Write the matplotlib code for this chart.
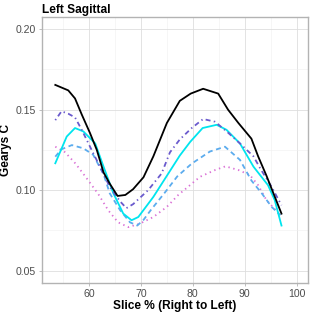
import matplotlib

matplotlib.use("Agg")
import matplotlib.pyplot as plt

plt.rcParams["font.family"] = ["Liberation Sans", "DejaVu Sans"]
plt.rcParams["lines.scale_dashes"] = False

# values
black_x = [53.5, 56.0, 57.3, 58.6, 60.2, 61.5, 62.8, 64.0, 65.5, 67.0, 68.5, 70.5,
           72.4, 75.0, 77.5, 79.6, 82.0, 84.9, 86.8, 88.8, 91.3, 92.6, 94.2, 97.1]
black_y = [0.1654, 0.162, 0.157, 0.147, 0.1354, 0.125, 0.111, 0.104, 0.0964, 0.0970,
           0.1006, 0.108, 0.121, 0.1417, 0.1555, 0.160, 0.163, 0.160, 0.150, 0.1417,
           0.132, 0.121, 0.109, 0.0854]

purple_x = [53.5, 54.7, 56.0, 57.3, 58.6, 60.5, 62.1, 64.0, 66.0, 67.2, 68.5, 71.4,
            74.0, 75.6, 77.5, 79.8, 82.0, 84.3, 86.7, 89.1, 91.7, 93.0, 95.2, 97.1]
purple_y = [0.1435, 0.149, 0.1475, 0.1452, 0.1375, 0.125, 0.1146, 0.102, 0.093, 0.0888,
            0.0913, 0.100, 0.1104, 0.1235, 0.1315, 0.1386, 0.1442, 0.1425, 0.1360,
            0.129, 0.121, 0.1135, 0.102, 0.0906]

cyan_x = [53.5, 55.7, 57.3, 58.9, 61.2, 62.8, 64.7, 66.6, 68.2, 69.5, 72.4, 75.3,
          77.5, 79.5, 81.9, 84.6, 86.5, 89.1, 91.7, 94.5, 95.8, 97.1]
cyan_y = [0.1167, 0.1333, 0.1386, 0.1365, 0.129, 0.1146, 0.098, 0.0854, 0.0813, 0.0833,
          0.0958, 0.1104, 0.1215, 0.130, 0.1386, 0.1406, 0.1375, 0.129, 0.1146, 0.1031,
          0.0938, 0.078]

blue_x = [53.5, 54.7, 56.7, 58.9, 60.8, 61.5, 62.8, 64.0, 66.0, 67.9, 69.3, 70.5,
          72.0, 74.5, 77.0, 79.8, 83.3, 86.2, 89.1, 91.3, 93.3, 95.2, 96.9]
blue_y = [0.1208, 0.1254, 0.128, 0.126, 0.122, 0.1177, 0.110, 0.098, 0.0875, 0.0800,
          0.078, 0.0815, 0.088, 0.098, 0.1085, 0.1165, 0.124, 0.127, 0.1188, 0.106,
          0.098, 0.0896, 0.0844]

pink_x = [53.5, 55.4, 57.4, 59.4, 61.8, 63.7, 65.6, 67.6, 69.8, 72.4, 75.0, 77.2,
          78.5, 81.4, 84.3, 86.3, 88.8, 91.0, 92.6, 94.2, 96.9]
pink_y = [0.127, 0.1235, 0.1165, 0.108, 0.0975, 0.0875, 0.080, 0.077, 0.0792, 0.0833,
          0.0896, 0.097, 0.1005, 0.1083, 0.1125, 0.1148, 0.1125, 0.1094, 0.1031,
          0.0938, 0.0844]

fig = plt.figure(figsize=(3.12, 3.12), dpi=100)
ax = fig.add_axes([0.134, 0.094, 0.853, 0.851])

ax.plot(pink_x, pink_y, color="#DA70D6", lw=1.3, dashes=(1.0, 2.6))
ax.plot(blue_x, blue_y, color="#5CACEE", lw=1.3, dashes=(3.6, 2.6))
ax.plot(cyan_x, cyan_y, color="#00E5EE", lw=1.3)
ax.plot(purple_x, purple_y, color="#6A5ACD", lw=1.3, dashes=(1.0, 2.4, 3.6, 2.4))
ax.plot(black_x, black_y, color="black", lw=1.3)

ax.set_xlim(50.9, 102.2)
ax.set_ylim(0.0425, 0.2075)
ax.set_xticks([60, 70, 80, 90, 100])
ax.set_xticks([55, 65, 75, 85, 95], minor=True)
ax.set_yticks([0.05, 0.10, 0.15, 0.20])
ax.set_yticks([0.075, 0.125, 0.175], minor=True)
ax.set_yticklabels(["0.05", "0.10", "0.15", "0.20"])

ax.grid(True, which="major", color="#DEDEDE", lw=0.6)
ax.grid(True, which="minor", color="#EFEFEF", lw=0.4)
ax.set_axisbelow(True)
for s in ax.spines.values():
    s.set_color("#B3B3B3")
    s.set_linewidth(1.0)
ax.tick_params(which="major", length=2.5, width=0.6, color="#B3B3B3",
               labelsize=7.6, labelcolor="#4D4D4D", pad=2)
ax.tick_params(which="minor", length=0)

ax.set_xlabel("Slice % (Right to Left)", fontsize=8.6, fontweight="bold", labelpad=1)
ax.set_ylabel("Gearys C", fontsize=8.6, fontweight="bold", labelpad=2)
ax.set_title("Left Sagittal", fontsize=8.6, fontweight="bold", loc="left", pad=3)

fig.savefig("out.png", dpi=100)
